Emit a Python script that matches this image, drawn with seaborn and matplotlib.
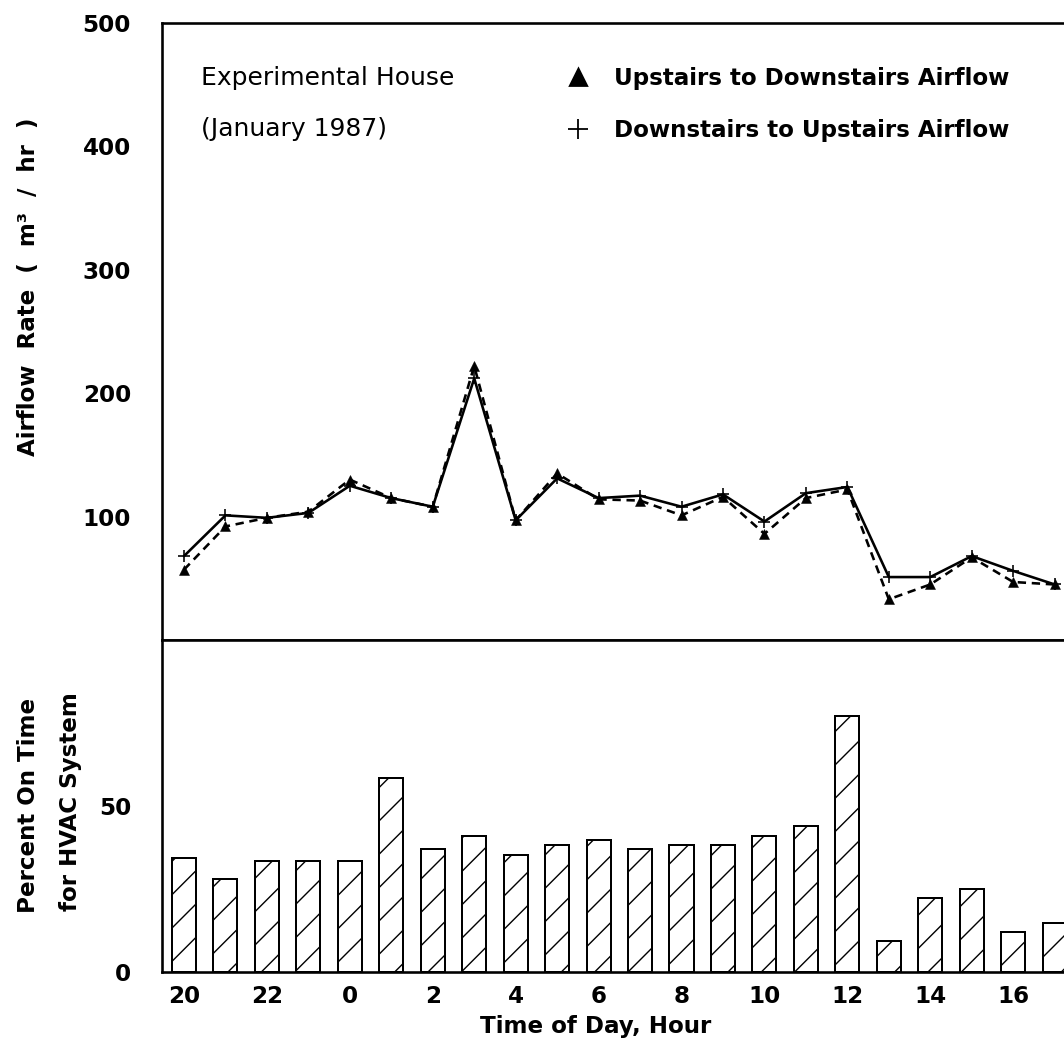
import numpy as np
import pandas as pd
import matplotlib
matplotlib.use("Agg")
import matplotlib.pyplot as plt
from matplotlib.lines import Line2D
import seaborn as sns

# Hour of day for each hourly average, starting at 20:00
hours = [20, 21, 22, 23, 0, 1, 2, 3, 4, 5, 6, 7, 8, 9, 10, 11, 12, 13, 14, 15, 16, 17]
hour_labels = [str(h) for h in hours]

# Interzonal airflow rates, m3/hr
upstairs_to_downstairs = [57, 92, 99, 104, 130, 115, 108, 222, 97, 135, 114,
                          113, 101, 116, 86, 115, 122, 33, 45, 67, 47, 45]
downstairs_to_upstairs = [68, 101, 99, 103, 125, 115, 108, 212, 97, 131, 115,
                          117, 108, 118, 96, 119, 124, 51, 51, 68, 56, 45]

# Share of each hour the HVAC system was running, percent
hvac_on_time = [34.4, 28.1, 33.5, 33.5, 33.5, 58.3, 36.9, 40.9, 35.3, 38.4, 39.9,
                36.9, 38.2, 38.2, 41.1, 44.1, 77.1, 9.4, 22.4, 25.0, 12.0, 14.7]

DPI = 200
W_PX, H_PX = 1064, 1042
PT = 72.0 / DPI  # points per pixel


def px(v):
    return v * PT


sns.set_theme(style="white")
plt.rcParams.update({
    "font.family": ["DejaVu Sans"],
    "text.color": "black",
    "axes.labelcolor": "black",
    "axes.edgecolor": "black",
    "axes.linewidth": px(2.6),
    "xtick.color": "black",
    "ytick.color": "black",
    "hatch.linewidth": px(1.4),
    "hatch.color": "black",
})

FS = px(23)
FS_NOTE = px(25)

fig = plt.figure(figsize=(W_PX / DPI, H_PX / DPI), dpi=DPI)

left_px, right_px = 162, 1080
ax_left = left_px / W_PX
ax_width = (right_px - left_px) / W_PX
top_ax = fig.add_axes([ax_left, 1 - 640 / H_PX, ax_width, (640 - 23) / H_PX])
bot_ax = fig.add_axes([ax_left, 1 - 972 / H_PX, ax_width, (972 - 640) / H_PX])

xpos = np.arange(len(hours))
x_lo = (left_px - 184) / 41.46
x_hi = (right_px - 184) / 41.46

# ---- upper panel: airflow rates ----
df = pd.DataFrame({"x": xpos,
                   "up": upstairs_to_downstairs,
                   "down": downstairs_to_upstairs})
sns.lineplot(data=df, x="x", y="down", ax=top_ax, color="black",
             linewidth=px(2.6), marker="+", markersize=px(12),
             mec="black", mew=px(1.6), zorder=3)
sns.lineplot(data=df, x="x", y="up", ax=top_ax, color="black",
             linewidth=px(2.6), linestyle=(0, (3.2, 2.2)), marker="^",
             markersize=px(10), mec="black", mew=px(0.5), zorder=4)

top_ax.set_xlim(x_lo, x_hi)
top_ax.set_ylim(0, 500)
top_ax.set_yticks([100, 200, 300, 400, 500])
top_ax.set_xticks([])
top_ax.set_xlabel("")
top_ax.set_ylabel("")
top_ax.spines["right"].set_visible(False)
top_ax.tick_params(axis="y", direction="out", length=px(15), width=px(2.2),
                   pad=px(16), labelsize=FS)
for lab in top_ax.get_yticklabels():
    lab.set_fontweight("bold")

# ---- lower panel: HVAC on-time ----
sns.barplot(x=hour_labels, y=hvac_on_time, order=hour_labels, ax=bot_ax,
            color="white", edgecolor="black", linewidth=px(2.0),
            hatch="//", width=0.58, errorbar=None, saturation=1)
bot_ax.set_xlim(x_lo, x_hi)
bot_ax.set_ylim(0, 100)
bot_ax.set_yticks(np.arange(0, 101, 10))
bot_ax.set_yticklabels(["0", "", "", "", "", "50", "", "", "", "", ""])
bot_ax.set_xticks(xpos[::2])
bot_ax.set_xticklabels(hour_labels[::2])
bot_ax.set_xlabel("")
bot_ax.set_ylabel("")
bot_ax.spines["right"].set_visible(False)
bot_ax.tick_params(axis="y", direction="out", length=px(15), width=px(2.2),
                   pad=px(16), labelsize=FS)
bot_ax.tick_params(axis="x", direction="out", length=px(5), width=px(2.0),
                   pad=px(8), labelsize=FS)
for lab in bot_ax.get_yticklabels() + bot_ax.get_xticklabels():
    lab.set_fontweight("bold")

# ---- axis titles ----
fig.text(29 / W_PX, 1 - 287 / H_PX, "Airflow  Rate  (  m³  /  hr  )",
         rotation=90, ha="center", va="center", fontsize=FS,
         fontweight="bold")
fig.text(29 / W_PX, 1 - 805 / H_PX, "Percent On Time", rotation=90,
         ha="center", va="center", fontsize=FS, fontweight="bold")
fig.text(70 / W_PX, 1 - 802 / H_PX, "for HVAC System", rotation=90,
         ha="center", va="center", fontsize=FS, fontweight="bold")
fig.text(596 / W_PX, 1 - 1027 / H_PX, "Time of Day, Hour",
         ha="center", va="center", fontsize=FS, fontweight="bold")

# ---- annotation and key ----
fig.text(201 / W_PX, 1 - 78 / H_PX, "Experimental House",
         ha="left", va="center", fontsize=FS_NOTE)
fig.text(201 / W_PX, 1 - 129 / H_PX, "(January 1987)",
         ha="left", va="center", fontsize=FS_NOTE)

handles = [
    Line2D([], [], linestyle="none", marker="^", color="black",
           markersize=px(16)),
    Line2D([], [], linestyle="none", marker="+", color="black",
           markersize=px(20), mew=px(1.8)),
]
fig.legend(handles, ["Upstairs to Downstairs Airflow",
                     "Downstairs to Upstairs Airflow"],
           loc="upper left", bbox_to_anchor=(555 / W_PX, 1 - 56 / H_PX),
           frameon=False, borderpad=0, handlelength=1.0, handletextpad=1.05,
           labelspacing=1.25, prop={"size": FS, "weight": "bold"})

fig.savefig("out.png", dpi=DPI, facecolor="white")
